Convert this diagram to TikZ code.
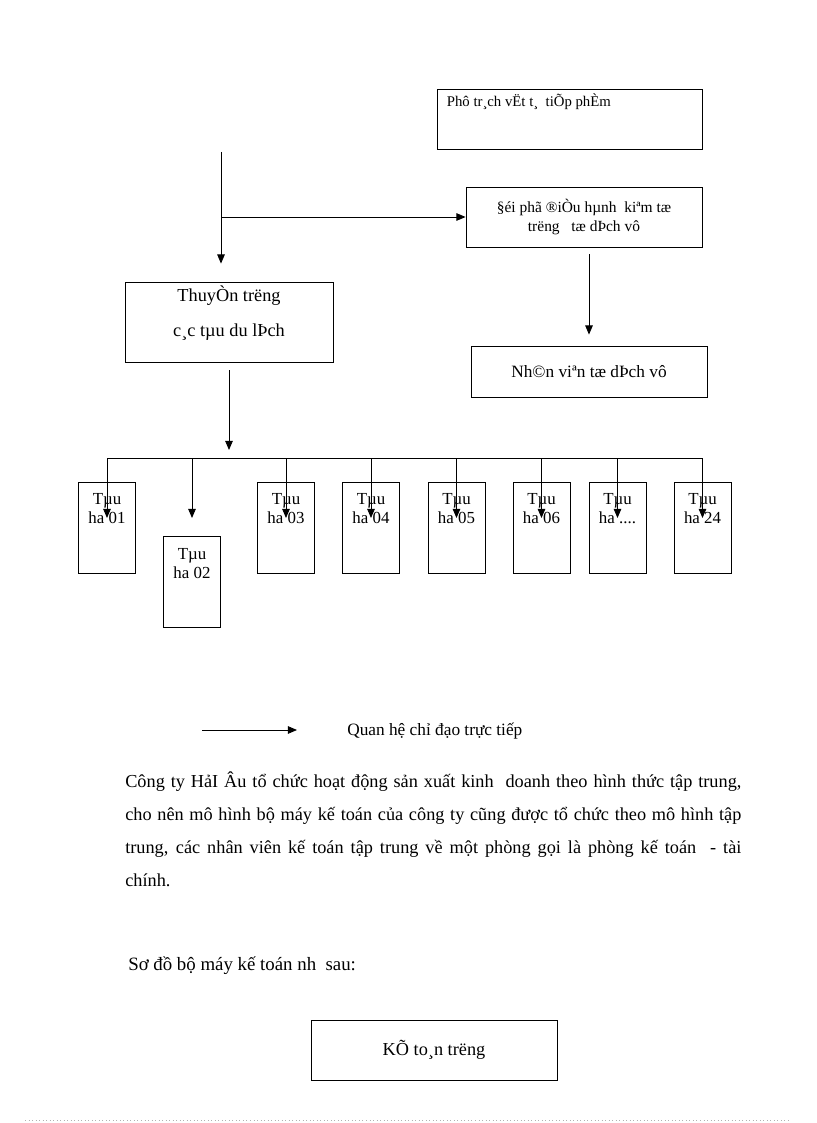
\documentclass[tikz,border=0pt]{standalone}
\usepackage{fontspec}
\setmainfont{Liberation Serif}
\usetikzlibrary{arrows.meta}

\begin{document}
\begin{tikzpicture}[x=0.025cm, y=-0.025cm, font=\fontsize{12}{14.2}\selectfont,
    khung/.style={draw, line width=0.6pt, inner sep=0pt, align=center},
    tau/.style={khung, minimum width=1.425cm, minimum height=2.275cm,
      label={[anchor=base, inner sep=0pt, align=center, yshift=-1.05cm,
        font=\fontsize{12}{13.5}\selectfont]north:#1}},
    muiten/.style={line width=0.6pt, -{Triangle[length=2.3mm, width=1.9mm]}}]
  \useasboundingbox (0,0) rectangle (816,1123);

  % hop phia tren
  \node[khung, minimum width=6.625cm, minimum height=1.5cm,
    label={[anchor=base west, inner sep=0pt, xshift=0.25cm, yshift=-0.45cm,
      font=\fontsize{10.5}{12}\selectfont]north west:Phô tr¸ch vËt t¸\ \ tiÕp phÈm}] (phutrach) at (569.5,119) {};
  \node[khung, minimum width=5.9cm, minimum height=1.5cm, font=\fontsize{11}{13.6}\selectfont] (doipho) at (584,217)
    {§éi phã ®iÒu hµnh\ \ kiªm tæ\\trëng\ \ \ tæ dÞch vô};
  \node[khung, minimum width=5.2cm, minimum height=2cm,
    label={[anchor=base, inner sep=0pt, yshift=-1.375cm, align=center,
      font=\fontsize{13}{25}\selectfont]north:ThuyÒn trëng\\c¸c tµu du lÞch}] (thuyentruong) at (229,322) {};
  \node[khung, minimum width=5.9cm, minimum height=1.275cm, font=\fontsize{12.3}{14.2}\selectfont] (nhanvien) at (589,371.5) {Nh©n viªn tæ dÞch vô};

  % cac tau
  \node[tau={Tµu\\ha 01}] (tau01) at (107,527.5) {};
  \node[tau={Tµu\\ha 02}] (tau02) at (192,582) {};
  \node[tau={Tµu\\ha 03}] (tau03) at (286,527.5) {};
  \node[tau={Tµu\\ha 04}] (tau04) at (371,527.5) {};
  \node[tau={Tµu\\ha 05}] (tau05) at (456.5,527.5) {};
  \node[tau={Tµu\\ha 06}] (tau06) at (541.5,527.5) {};
  \node[tau={Tµu\\ha ....}] (tau07) at (617.5,527.5) {};
  \node[tau={Tµu\\ha 24}] (tau24) at (702.5,527.5) {};

  \coordinate (dau) at (221,152);
  \coordinate (bus) at (229,458);
  \coordinate (mui) at (0,518);

  \draw[muiten, shorten >=0.45cm] (dau) -- (dau |- thuyentruong.north);
  \draw[muiten] (dau |- doipho.west) -- (doipho.west);
  \draw[muiten, shorten <=0.175cm, shorten >=0.275cm] (nhanvien.north |- doipho.south) -- (nhanvien.north);
  \draw[muiten, shorten <=0.2cm, shorten >=0.2cm] (thuyentruong.south) -- (bus);

  \draw[line width=0.6pt] (tau01.north |- bus) -- (tau24.north |- bus);
  \draw[muiten] (tau01.north |- bus) -- (tau01.north |- mui);
  \draw[muiten] (tau02.north |- bus) -- (tau02.north |- mui);
  \draw[muiten] (tau03.north |- bus) -- (tau03.north |- mui);
  \draw[muiten] (tau04.north |- bus) -- (tau04.north |- mui);
  \draw[muiten] (tau05.north |- bus) -- (tau05.north |- mui);
  \draw[muiten] (tau06.north |- bus) -- (tau06.north |- mui);
  \draw[muiten] (tau07.north |- bus) -- (tau07.north |- mui);
  \draw[muiten] (tau24.north |- bus) -- (tau24.north |- mui);

  % chu thich
  \coordinate (chuthich1) at (202,730);
  \coordinate (chuthich2) at (297,730);
  \draw[muiten] (chuthich1) -- (chuthich2);
  \node[anchor=base west, inner sep=0pt, font=\fontsize{12.3}{14}\selectfont] (quanhe) at (347,735) {Quan hệ chỉ đạo trực tiếp};

  % doan van
  \node[anchor=north west, inner sep=0pt, text width=15.4cm, align=justify,
    font=\fontsize{13}{23.4}\selectfont] (doanvan) at (125,772)
    {Công ty HảI Âu tổ chức hoạt động sản xuất kinh\ \ doanh theo hình thức tập trung,\linebreak
     cho nên mô hình bộ máy kế toán của công ty cũng được tổ chức theo mô hình tập\linebreak
     trung, các nhân viên kế toán tập trung về một phòng gọi là phòng kế toán\ \ - tài\linebreak
     chính.};
  \node[anchor=base west, inner sep=0pt, font=\fontsize{13.4}{15}\selectfont] (sodo) at (128,970) {Sơ đồ bộ máy kế toán nh\ \ sau:};

  \node[khung, minimum width=6.15cm, minimum height=1.5cm, font=\fontsize{13}{15}\selectfont] (ketoan) at (434,1050) {KÕ to¸n trëng};

  \draw[gray!60, dotted, line width=0.5pt] (25,1120) -- (791,1120);
\end{tikzpicture}
\end{document}
